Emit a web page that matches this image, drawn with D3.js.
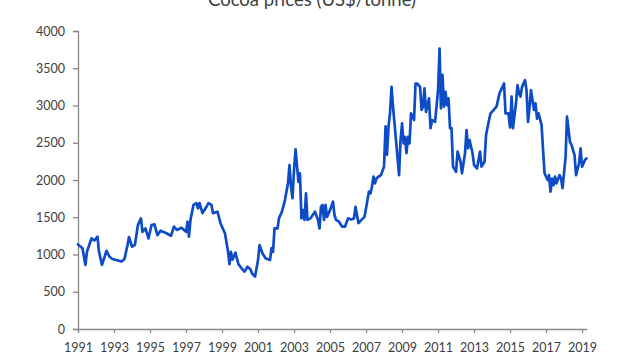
<!DOCTYPE html>
<html>
<head>
<meta charset="utf-8">
<script src="https://cdn.jsdelivr.net/npm/d3@7"></script>
<style>
  html, body { margin: 0; padding: 0; background: #ffffff; }
  svg { display: block; }
</style>
</head>
<body>
<svg id="chart" width="640" height="360"></svg>
<script>
// ---- data ----
const title = "Cocoa prices (US$/tonne)";
const months = [
  "1991-01","1991-04","1991-06","1991-07","1991-10","1991-12","1992-02","1992-03","1992-05","1992-08",
  "1992-10","1992-12","1993-06","1993-08","1993-10","1993-11","1994-01","1994-03","1994-05","1994-07",
  "1994-08","1994-10","1994-12","1995-02","1995-04","1995-06","1995-08","1995-12","1996-03","1996-05",
  "1996-07","1996-10","1997-01","1997-02","1997-03","1997-04","1997-06","1997-08","1997-09","1997-10",
  "1997-12","1998-02","1998-04","1998-06","1998-07","1998-10","1998-12","1999-03","1999-05","1999-06",
  "1999-07","1999-08","1999-10","1999-11","1999-12","2000-02","2000-04","2000-06","2000-08","2000-09",
  "2000-11","2001-01","2001-02","2001-04","2001-06","2001-09","2001-10","2001-11","2001-12","2002-02",
  "2002-03","2002-05","2002-07","2002-09","2002-10","2002-11","2002-12","2003-01","2003-02","2003-03",
  "2003-04","2003-05","2003-06","2003-07","2003-08","2003-09","2003-10","2003-12","2004-03","2004-05",
  "2004-06","2004-07","2004-08","2004-09","2004-10","2004-11","2005-01","2005-03","2005-04","2005-05",
  "2005-07","2005-09","2005-11","2006-01","2006-03","2006-05","2006-06","2006-08","2006-10","2006-12",
  "2007-01","2007-03","2007-04","2007-05","2007-06","2007-07","2007-08","2007-09","2007-11","2008-01",
  "2008-02","2008-03","2008-04","2008-05","2008-06","2008-07","2008-08","2008-10","2008-11","2008-12",
  "2009-01","2009-02","2009-03","2009-04","2009-05","2009-06","2009-07","2009-09","2009-10","2009-11",
  "2010-01","2010-02","2010-03","2010-04","2010-05","2010-07","2010-08","2010-09","2010-11","2010-12",
  "2011-01","2011-02","2011-03","2011-04","2011-05","2011-06","2011-07","2011-08","2011-09","2011-10",
  "2011-11","2012-01","2012-02","2012-04","2012-05","2012-07","2012-08","2012-09","2012-10","2012-12",
  "2013-01","2013-03","2013-05","2013-06","2013-08","2013-09","2013-11","2013-12","2014-02","2014-04",
  "2014-06","2014-08","2014-09","2014-10","2014-12","2015-01","2015-02","2015-03","2015-05","2015-06",
  "2015-07","2015-08","2015-09","2015-11","2015-12","2016-01","2016-02","2016-03","2016-05","2016-06",
  "2016-07","2016-08","2016-10","2016-11","2016-12","2017-02","2017-03","2017-04","2017-05","2017-06",
  "2017-07","2017-08","2017-10","2017-11","2017-12","2018-02","2018-03","2018-05","2018-06","2018-08",
  "2018-09","2018-11","2018-12","2019-01","2019-03","2019-04"
];
const prices = [
  1135,1085,860,1035,1215,1190,1240,1040,860,1050,
  970,940,905,940,1125,1235,1105,1130,1395,1485,
  1305,1350,1215,1395,1405,1260,1320,1285,1250,1375,
  1330,1360,1305,1440,1240,1465,1665,1690,1620,1690,
  1555,1620,1690,1665,1555,1575,1420,1285,1050,870,
  1035,930,1025,940,870,815,770,835,800,745,
  705,925,1125,1015,950,925,1085,1035,1350,1350,
  1485,1575,1730,1955,2200,1910,1755,2135,2410,2200,
  1975,2090,1485,1595,1465,1820,1465,1485,1575,1465,
  1350,1640,1665,1465,1665,1505,1595,1710,1530,1465,
  1440,1375,1375,1485,1470,1485,1640,1420,1465,1505,
  1620,1845,1820,1910,2045,1955,2020,2040,2065,2180,
  2720,2340,2715,2895,3250,2985,2760,2300,2065,2535,
  2760,2490,2580,2360,2580,2490,2895,2805,3295,3295,
  3250,2940,2985,3230,2915,3095,2695,2805,2780,2985,
  3205,3765,2960,3410,2985,3185,3005,3095,2695,2695,
  2180,2110,2380,2245,2090,2360,2670,2425,2535,2360,
  2200,2155,2380,2180,2245,2605,2805,2895,2940,2985,
  3165,3250,3295,2895,2895,2705,3120,2695,3030,3275,
  3165,3120,3250,3340,3205,2780,2985,3205,2940,3030,
  2825,2895,2740,2400,2090,2000,2065,1845,2020,1930,
  2045,1955,2065,2020,1890,2310,2850,2510,2470,2335,
  2065,2225,2425,2180,2270,2290
];
const yTicks = [0, 500, 1000, 1500, 2000, 2500, 3000, 3500, 4000];
const xTickYears = [1991, 1993, 1995, 1997, 1999, 2001, 2003, 2005, 2007, 2009, 2011, 2013, 2015, 2017, 2019];

// ---- drawing ----
const parse = d3.timeParse("%Y-%m");
const data = months.map((m, i) => ({ date: parse(m), value: prices[i] }));

const svg = d3.select("#chart");
const axisColor = "#888888";
const textColor = "#404040";
const fontFamily = "Lato, 'Open Sans', sans-serif";

const x = d3.scaleTime()
  .domain([new Date(1991, 0, 1), new Date(2019, 3, 5)])
  .range([78, 586.7]);
const y = d3.scaleLinear()
  .domain([0, 4000])
  .range([329, 31]);

// title (partly cut off at the top edge, as in the reference)
svg.append("text")
  .attr("x", 312)
  .attr("y", 5.5)
  .attr("text-anchor", "middle")
  .attr("font-family", fontFamily)
  .attr("font-size", 18.5)
  .attr("fill", "#404040")
  .text(title);

// y axis
const yAxis = d3.axisLeft(y)
  .tickValues(yTicks)
  .tickSize(5)
  .tickPadding(8)
  .tickFormat(d3.format("d"));
const gy = svg.append("g")
  .attr("transform", "translate(78,0)")
  .call(yAxis);
gy.select(".domain").attr("stroke", axisColor).attr("stroke-width", 1.3);
gy.selectAll(".tick line").attr("stroke", axisColor).attr("stroke-width", 1.3);
gy.selectAll(".tick text")
  .attr("fill", textColor)
  .attr("font-family", fontFamily)
  .attr("font-size", 12.5);

// x axis
const xAxis = d3.axisBottom(x)
  .tickValues(xTickYears.map(yr => new Date(yr, 0, 1)))
  .tickSize(4)
  .tickSizeOuter(0)
  .tickPadding(10)
  .tickFormat(d3.timeFormat("%Y"));
const gx = svg.append("g")
  .attr("transform", "translate(0,329)")
  .call(xAxis);
gx.select(".domain").attr("stroke", axisColor).attr("stroke-width", 1.3);
gx.selectAll(".tick line").attr("stroke", axisColor).attr("stroke-width", 1.3);
gx.selectAll(".tick text")
  .attr("fill", textColor)
  .attr("font-family", fontFamily)
  .attr("font-size", 12.5);

// price line
const line = d3.line()
  .x(d => x(d.date))
  .y(d => y(d.value))
  .curve(d3.curveLinear);
svg.append("path")
  .datum(data)
  .attr("fill", "none")
  .attr("stroke", "#0d4cc6")
  .attr("stroke-width", 2.7)
  .attr("stroke-linejoin", "round")
  .attr("stroke-linecap", "round")
  .attr("d", line);
</script>
</body>
</html>
